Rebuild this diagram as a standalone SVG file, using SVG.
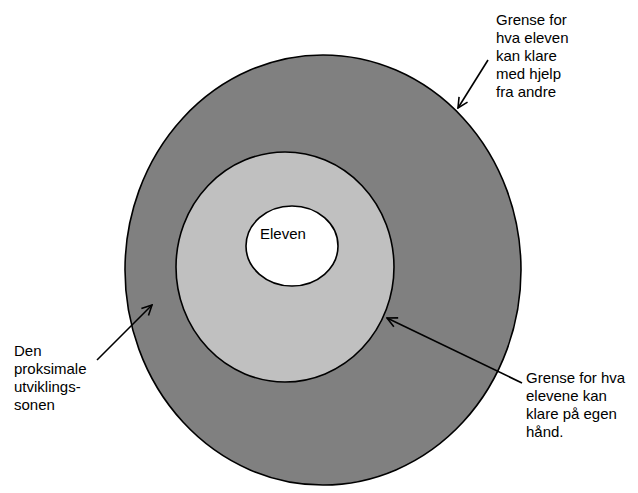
<svg xmlns="http://www.w3.org/2000/svg" width="638" height="493" viewBox="0 0 638 493">
<style>
.e{stroke:#000;stroke-width:1.6}
text{font-family:"Liberation Sans",Arial,sans-serif;font-size:15px;fill:#000}
.c{stroke:#000;stroke-width:1.6;fill:none}
</style>
<defs>
<marker id="a" viewBox="0 0 12 12" refX="11" refY="6" markerWidth="12" markerHeight="12" markerUnits="userSpaceOnUse" orient="auto">
<path d="M1,1 L11,6 L1,11" fill="none" stroke="#000" stroke-width="1.6"/>
</marker>
</defs>
<rect width="638" height="493" fill="#fff"/>
<g id="outer"><ellipse class="e" cx="323" cy="270" rx="198" ry="215" fill="#808080"/></g>
<g id="middle"><ellipse class="e" cx="285" cy="267" rx="109" ry="115" fill="#c0c0c0"/></g>
<g id="inner"><ellipse class="e" cx="292" cy="246" rx="46" ry="40" fill="#fff"/><text x="260" y="239">Eleven</text></g>
<g id="connectors">
<line class="c" x1="488" y1="60" x2="458" y2="108" marker-end="url(#a)"/>
<line class="c" x1="97" y1="360" x2="152" y2="305" marker-end="url(#a)"/>
<line class="c" x1="522" y1="383" x2="387" y2="318" marker-end="url(#a)"/>
</g>
<g id="label-top"><text x="496" y="25">Grense for</text><text x="496" y="43">hva eleven</text><text x="496" y="61">kan klare</text><text x="496" y="79">med hjelp</text><text x="496" y="97">fra andre</text></g>
<g id="label-left"><text x="14" y="356">Den</text><text x="14" y="374">proksimale</text><text x="14" y="392">utviklings-</text><text x="14" y="410">sonen</text></g>
<g id="label-right"><text x="526" y="383">Grense for hva</text><text x="526" y="401">elevene kan</text><text x="526" y="419">klare på egen</text><text x="526" y="437">hånd.</text></g>
</svg>
